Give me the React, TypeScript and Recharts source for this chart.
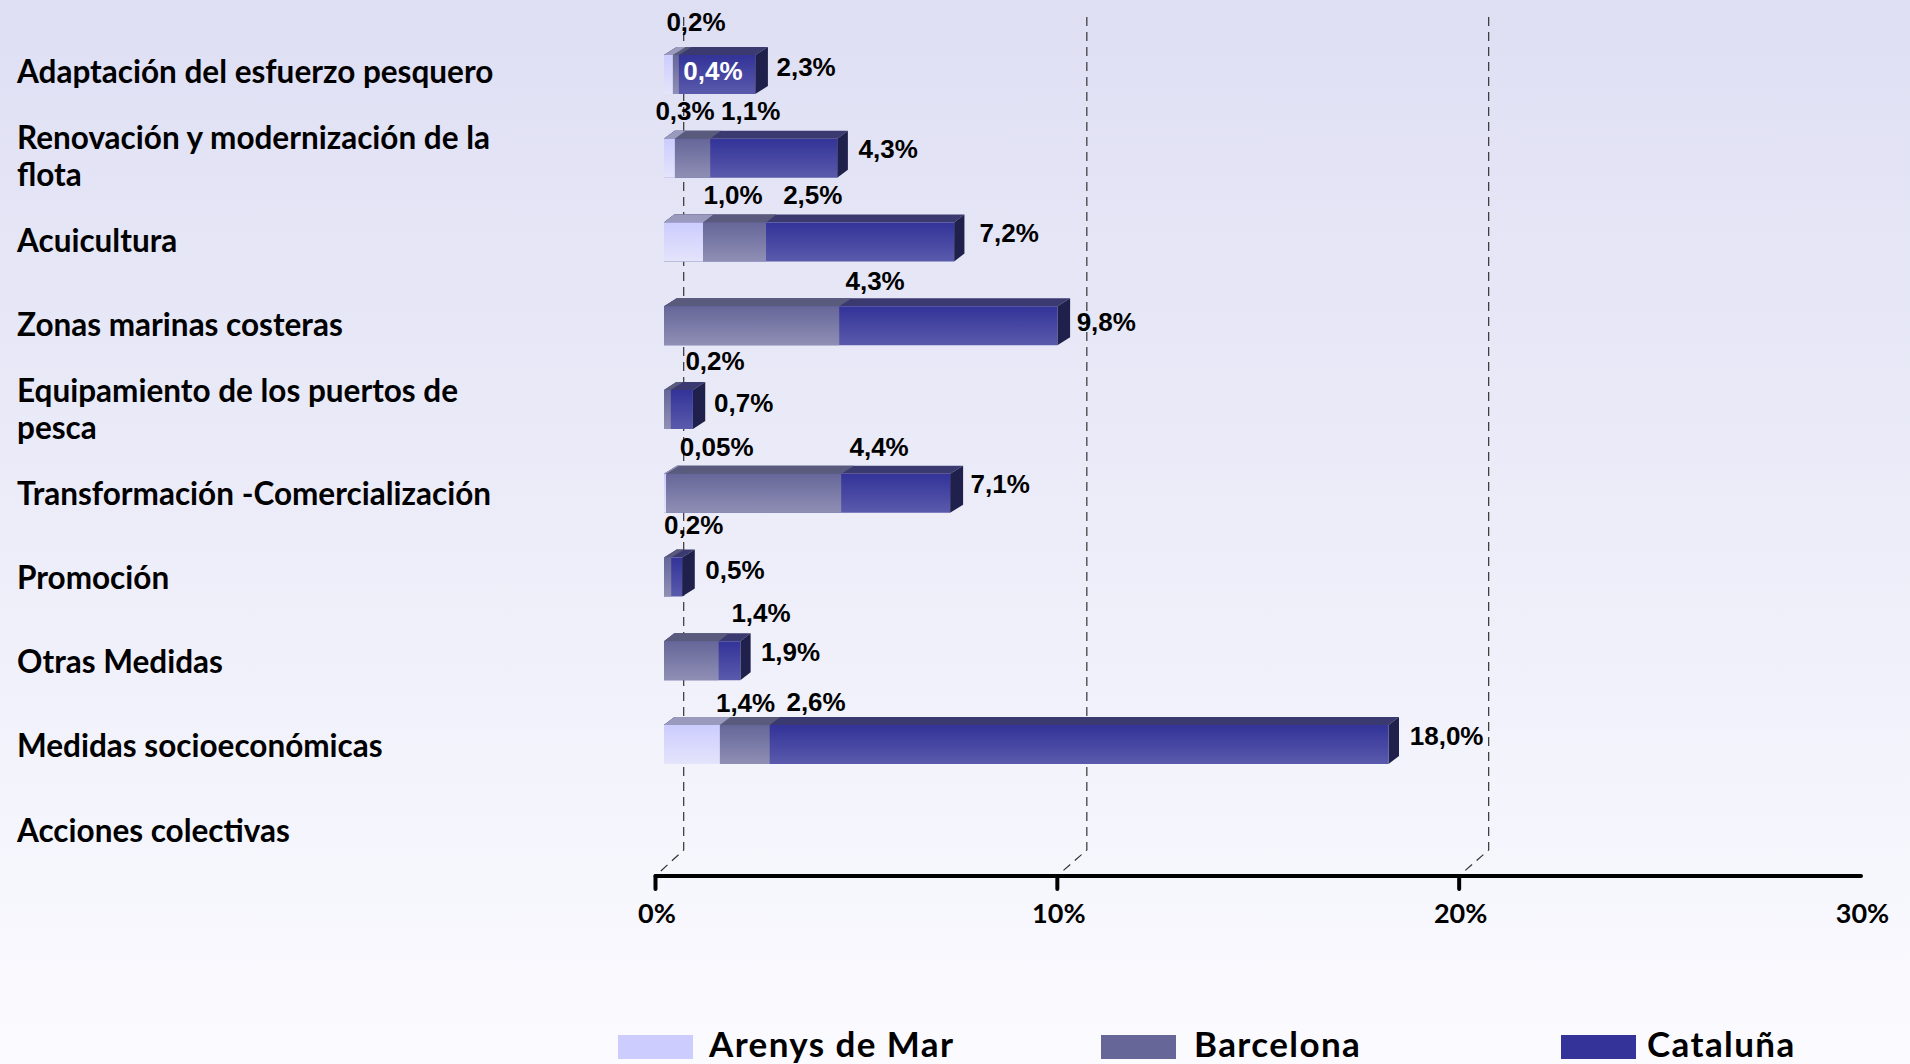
import React from 'react';
import { Bar, BarChart, CartesianGrid, LabelList, Legend, XAxis, YAxis } from 'recharts';

const categories = [
    'Adaptación del esfuerzo pesquero',
    'Renovación y modernización de la flota',
    'Acuicultura',
    'Zonas marinas costeras',
    'Equipamiento de los puertos de pesca',
    'Transformación -Comercialización',
    'Promoción',
    'Otras Medidas',
    'Medidas socioeconómicas',
    'Acciones colectivas',
];

// bar lengths (each bar starts at zero, they overlap)
const arenys = [0.22, 0.27, 0.97, null, null, 0.05, null, null, 1.39, null];
const barcelona = [0.37, 1.15, 2.54, 4.36, 0.17, 4.41, 0.18, 1.36, 2.63, null];
const cataluna = [2.27, 4.31, 7.22, 9.79, 0.72, 7.12, 0.45, 1.9, 18.03, null];

// printed labels
const arenysLabels = ['0,2%', '0,3%', '1,0%', '', '', '0,05%', '', '', '1,4%', ''];
const barcelonaLabels = ['0,4%', '1,1%', '2,5%', '4,3%', '0,2%', '4,4%', '0,2%', '1,4%', '2,6%', ''];
const catalunaLabels = ['2,3%', '4,3%', '7,2%', '9,8%', '0,7%', '7,1%', '0,5%', '1,9%', '18,0%', ''];

const xTicks = [0, 10, 20, 30];

// label placement relative to the end of the bar
const arenysOffsets = [[31.7, -53], [18.7, -47.7], [38.6, -47.5], null, null, [59.2, -46.7], null, null, [34.2, -42], null];
const barcelonaOffsets = [[42.6, -4], [49, -47.7], [55.2, -47.5], [44.4, -45.2], [52.7, -49], [46.4, -46.7], [31, -52.5], [50.9, -48.2], [54.9, -43], null];
const catalunaOffsets = [[59.4, -8], [59.5, -9.7], [63.6, -9.5], [57.4, -4.2], [59.3, -7], [58.6, -9.7], [61.4, -7.5], [58.7, -9.2], [66.6, -9], null];

// the 3d depth is not the same on every row of the original
const depthByRow = [12.7, 10.7, 10.3, 12.7, 12.3, 13, 12.7, 10.3, 10.5, 10.5];

const data = categories.map((name, i) => ({
    name,
    row: i,
    arenys: arenys[i],
    barcelona: barcelona[i],
    cataluna: cataluna[i],
}));

const WIDTH = 1910;
const HEIGHT = 1064;
const BAR_SIZE = 39;
const BAR_SHIFT = 8.5; // bars start a bit right of the axis origin
const DEPTH_Y = 8;

const labelFont = '"Liberation Sans", Arial, sans-serif';
const textFont = 'Lato, sans-serif';

const wrapCategory = (text: string, limit = 33) => {
    const lines: string[] = [];
    let line = '';
    text.split(' ').forEach((word) => {
        const next = line ? `${line} ${word}` : word;
        if (next.length > limit) {
            lines.push(line);
            line = word;
        } else {
            line = next;
        }
    });
    lines.push(line);
    return lines;
};

const CategoryTick = ({ y, payload, index }: any) => {
    const lines = wrapCategory(payload.value);
    const lineHeight = 37.5;
    const startY = y - 3.5 + 0.5 * index - ((lines.length - 1) * lineHeight) / 2;
    return (
        <text x={17} y={startY} fontFamily={textFont} fontSize={31.5} fontWeight={700} fill="#000" dominantBaseline="central">
            {lines.map((l, i) => (
                <tspan key={i} x={17} y={startY + i * lineHeight}>
                    {l}
                </tspan>
            ))}
        </text>
    );
};

const PercentTick = ({ x, payload }: any) => (
    <g>
        {payload.value < 30 && (
            <line x1={x} y1={876} x2={x} y2={889} stroke="#000" strokeWidth={4} strokeLinecap="round" />
        )}
        <text x={x + 1.5} y={912.5} textAnchor="middle" dominantBaseline="central" fontFamily={textFont} fontSize={27} fontWeight={700} fill="#000">
            {payload.value}%
        </text>
    </g>
);

const GridLine = ({ x1, index }: any) => {
    if (index === 3) return null;
    const shift = index === 0 ? 28.2 : 29.5;
    return (
        <path
            d={`M${x1 + shift} 17 V850 L${x1 + 2} 874`}
            fill="none"
            stroke="#333"
            strokeWidth={1.2}
            strokeDasharray="9 6"
        />
    );
};

const makeBarShape = (front: string, top: string, side?: string) => ({ x, y, width, height, payload }: any) => {
    if (!width || width <= 0) return null;
    const depthX = depthByRow[payload.row];
    const left = x + BAR_SHIFT;
    const right = left + width;
    return (
        <g>
            <polygon
                points={`${left},${y} ${left + depthX},${y - DEPTH_Y} ${right + depthX},${y - DEPTH_Y} ${right},${y}`}
                fill={top}
            />
            {side && (
                <polygon
                    points={`${right},${y} ${right + depthX},${y - DEPTH_Y} ${right + depthX},${y + height - DEPTH_Y} ${right},${y + height}`}
                    fill={side}
                />
            )}
            <rect x={left} y={y} width={width} height={height} fill={front} />
        </g>
    );
};

// LabelList drops rows with no bar, so the row number comes through as the value
const makeLabel = (texts: string[], offsets: any[], color: (row: number) => string = () => '#000') => ({ x, y, width, height, value }: any) => {
    const off = offsets[value];
    if (!off || !texts[value]) return null;
    return (
        <text
            x={x + width + off[0]}
            y={y + height / 2 + off[1]}
            textAnchor="middle"
            dominantBaseline="central"
            fontFamily={labelFont}
            fontSize={26}
            fontWeight={700}
            fill={color(value)}
        >
            {texts[value]}
        </text>
    );
};

const legendSlots: Record<string, { swatch: number; label: number }> = {
    'Arenys de Mar': { swatch: 618, label: 709 },
    Barcelona: { swatch: 1101, label: 1194 },
    'Cataluña': { swatch: 1561, label: 1647 },
};

const LegendContent = ({ payload }: any) => (
    <div style={{ position: 'relative', width: WIDTH, height: 40 }}>
        {(payload || []).map((item: any) => {
            const slot = legendSlots[item.value];
            return (
                <React.Fragment key={item.value}>
                    <div style={{ position: 'absolute', left: slot.swatch, top: 11, width: 75, height: 24, background: item.color }} />
                    <div
                        style={{
                            position: 'absolute',
                            left: slot.label,
                            top: -1,
                            lineHeight: '40px',
                            fontFamily: textFont,
                            fontSize: 35,
                            letterSpacing: 1.4,
                            fontWeight: 700,
                            color: '#000',
                            whiteSpace: 'nowrap',
                        }}
                    >
                        {item.value}
                    </div>
                </React.Fragment>
            );
        })}
    </div>
);

const App: React.FC = () => {
    return (
        <div
            style={{
                position: 'absolute',
                left: 0,
                top: 0,
                width: WIDTH,
                height: HEIGHT,
                overflow: 'hidden',
                background: 'linear-gradient(to bottom, #DEDFF3 0%, #FBFBFF 100%)',
            }}
        >
            <BarChart
                width={WIDTH}
                height={HEIGHT}
                data={data}
                layout="vertical"
                margin={{ top: 33, right: 49, left: 0, bottom: 0 }}
                barSize={BAR_SIZE}
                barGap={-BAR_SIZE}
            >
                <defs>
                    <linearGradient id="frontCataluna" x1="0" y1="0" x2="0" y2="1">
                        <stop offset="0%" stopColor="#333399" />
                        <stop offset="100%" stopColor="#5A5AAC" />
                    </linearGradient>
                    <linearGradient id="frontBarcelona" x1="0" y1="0" x2="0" y2="1">
                        <stop offset="0%" stopColor="#666699" />
                        <stop offset="100%" stopColor="#8F8FB5" />
                    </linearGradient>
                    <linearGradient id="frontArenys" x1="0" y1="0" x2="0" y2="1">
                        <stop offset="0%" stopColor="#CCCCFF" />
                        <stop offset="100%" stopColor="#E4E4FB" />
                    </linearGradient>
                </defs>
                <CartesianGrid horizontal={false} vertical={GridLine as any} />
                <XAxis
                    type="number"
                    domain={[0, 30]}
                    ticks={xTicks}
                    height={148}
                    axisLine={{ stroke: '#000', strokeWidth: 4, strokeLinecap: 'round' }}
                    tickLine={false}
                    tick={PercentTick}
                    interval={0}
                />
                <YAxis
                    type="category"
                    dataKey="name"
                    width={655.5}
                    axisLine={false}
                    tickLine={false}
                    tick={CategoryTick}
                    interval={0}
                    padding={{ top: 0, bottom: 5.5 }}
                />
                <Legend verticalAlign="bottom" height={40} content={LegendContent as any} />
                <Bar
                    dataKey="cataluna"
                    name="Cataluña"
                    fill="#333399"
                    isAnimationActive={false}
                    shape={makeBarShape('url(#frontCataluna)', '#3B3A70', '#20204C')}
                >
                    <LabelList dataKey="row" content={makeLabel(catalunaLabels, catalunaOffsets)} />
                </Bar>
                <Bar
                    dataKey="barcelona"
                    name="Barcelona"
                    fill="#666699"
                    isAnimationActive={false}
                    shape={makeBarShape('url(#frontBarcelona)', '#5A5A7C')}
                >
                    <LabelList dataKey="row" content={makeLabel(barcelonaLabels, barcelonaOffsets, (row) => (row === 0 ? '#fff' : '#000'))} />
                </Bar>
                <Bar
                    dataKey="arenys"
                    name="Arenys de Mar"
                    fill="#CCCCFF"
                    isAnimationActive={false}
                    shape={makeBarShape('url(#frontArenys)', '#9A9ABE')}
                >
                    <LabelList dataKey="row" content={makeLabel(arenysLabels, arenysOffsets)} />
                </Bar>
            </BarChart>
        </div>
    );
};

export default App;
